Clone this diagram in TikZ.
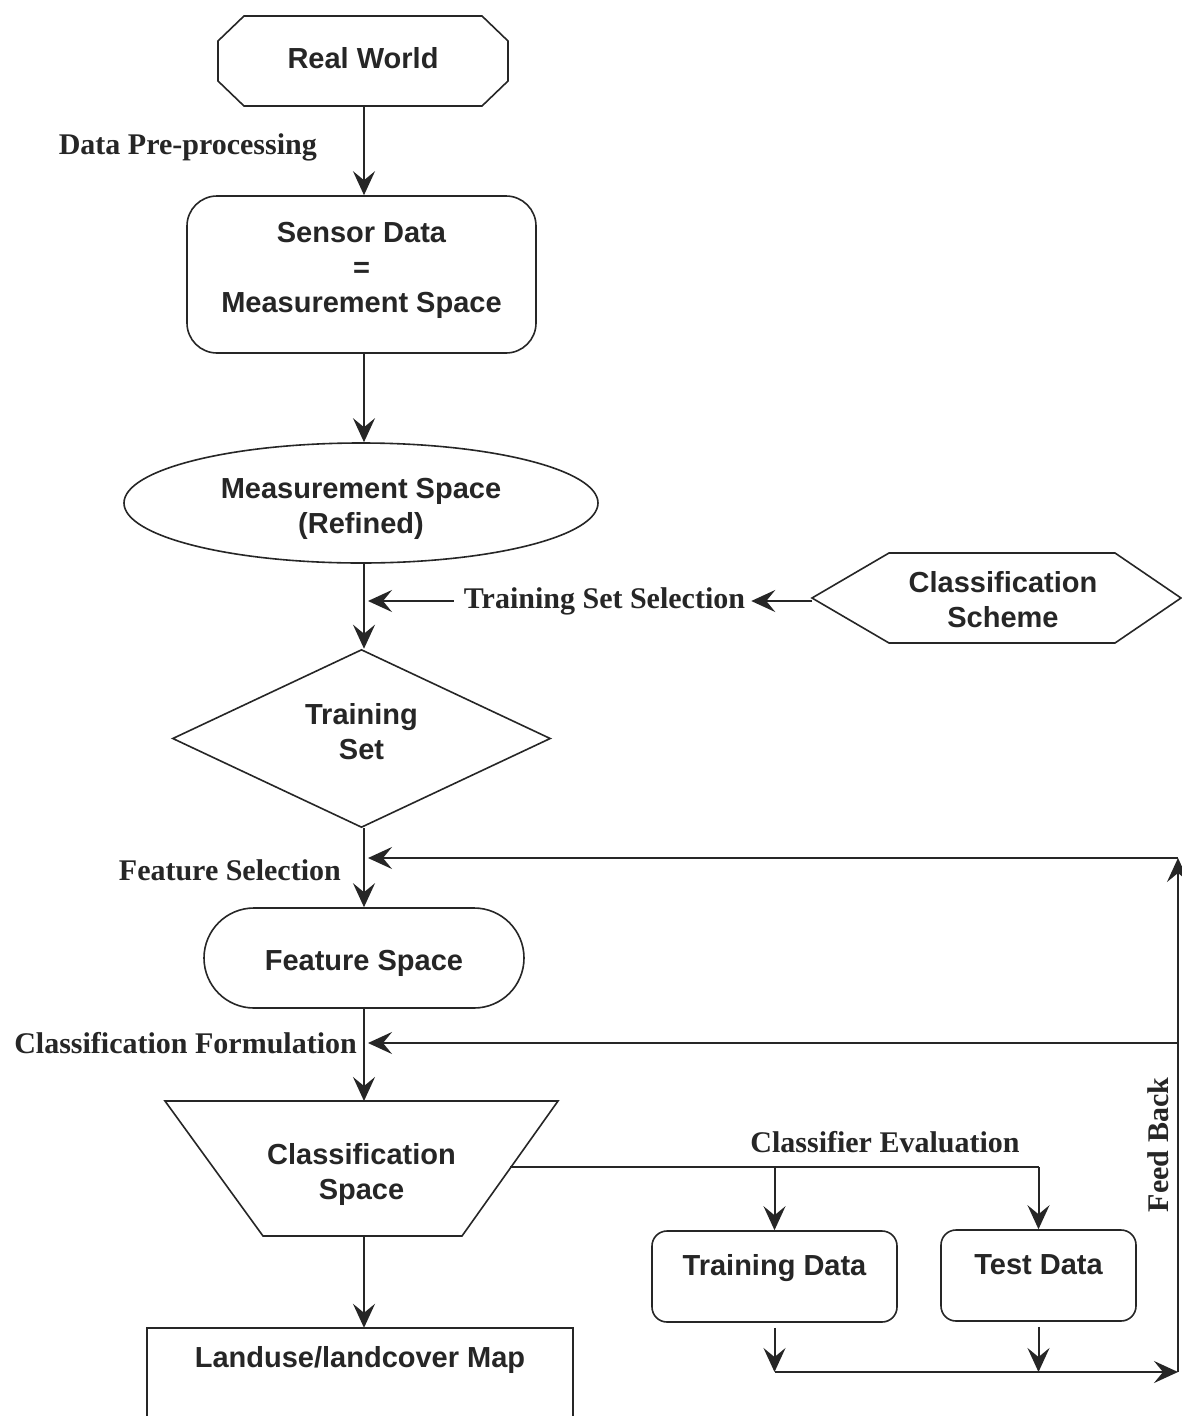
\documentclass[tikz,border=0pt]{standalone}
\usepackage{fontspec}
\setmainfont{Liberation Serif}
\setsansfont{Liberation Sans}
\usetikzlibrary{arrows.meta,shapes.geometric}
\definecolor{ink}{HTML}{262626}
\begin{document}
\begin{tikzpicture}[x=1pt,y=-1pt, color=ink,
  shp/.style={draw=ink, line width=1.6pt},
  box/.style={align=center, text=ink, inner sep=0pt,
    font=\sffamily\bfseries\fontsize{29}{35}\selectfont},
  lab/.style={text=ink, inner sep=0pt,
    font=\rmfamily\bfseries\fontsize{30}{34}\selectfont},
  arr/.style={draw=ink, line width=2pt, -{Stealth[length=24pt,width=22pt,inset=9pt]}},
  ln/.style={draw=ink, line width=2pt},
]
\fill[white] (0,0) rectangle (1182,1416);
\useasboundingbox (0,0) rectangle (1182,1416);
\coordinate (col) at (364,0);

% Real World (octagon)
\node[box, minimum width=290, minimum height=96] (rw) at (363,58) {Real World};
\draw[shp] (244,16) -- (482,16) -- (508,41) -- (508,81) -- (482,106) -- (244,106) -- (218,81) -- (218,41) -- cycle;

% Sensor Data
\node[box, shp, rounded corners=30pt, minimum width=349, minimum height=157, text depth=15pt] (sd) at (361.5,274.5) {Sensor Data\\=\\Measurement Space};

% Measurement Space (Refined)
\node[box, shp, ellipse, minimum width=474, minimum height=120, text height=66pt, text depth=6pt] (ms) at (361,503) {Measurement Space\\(Refined)};

% Classification Scheme (hexagon)
\node[box, minimum width=357, minimum height=90] (cs) at (1003,600) {Classification\\Scheme};
\draw[shp] (812,598) -- (889,553) -- (1115,553) -- (1181,598) -- (1115,643) -- (889,643) -- cycle;

% Training Set (diamond)
\node[box, shp, diamond, aspect=2, minimum width=378, minimum height=178, text depth=14pt] (ts) at (361.5,738.5) {Training\\Set};

% Feature Space (stadium)
\node[box, shp, rounded corners=50pt, minimum width=320, minimum height=100, text height=27pt, text depth=2pt] (fs) at (364,958) {Feature Space};

% Classification Space (trapezoid)
\node[box, minimum width=393, minimum height=135] (csp) at (361.5,1174.5) {Classification\\Space};
\draw[shp] (165,1101) -- (558,1101) -- (462,1236) -- (263,1236) -- cycle;
\coordinate (cspr) at (510,1167);

% Landuse map (open box)
\node[box, minimum width=426, minimum height=64] (map) at (360,1360) {Landuse/landcover Map};
\draw[shp] (map.north west |- 0,1416) -- (map.north west) -- (map.north east) -- (map.north east |- 0,1416);

% Training Data / Test Data
\node[box, shp, rounded corners=15pt, minimum width=245, minimum height=91, text height=22pt, text depth=25pt] (trd) at (774.5,1276.5) {Training Data};
\node[box, shp, rounded corners=15pt, minimum width=195, minimum height=91, text height=22pt, text depth=25pt] (ted) at (1038.5,1275.5) {Test Data};

% labels
\node[lab, anchor=east] (l1) at (317,147) {Data Pre-processing};
\node[lab] (tss) at (604.5,601) {Training Set Selection};
\node[lab, anchor=east] (l3) at (341,870) {Feature Selection};
\node[lab, anchor=east] (l4) at (357,1043) {Classification Formulation};
\node[lab] (l5) at (885,1142) {Classifier Evaluation};
\node[lab, rotate=90] (l6) at (1158,1145) {Feed Back};

% main column connectors
\draw[arr] (col |- rw.south) -- (col |- sd.north);
\draw[arr] (col |- sd.south) -- (col |- ms.north);
\draw[arr] (col |- ms.south) -- (col |- ts.north);
\draw[arr] (col |- ts.south) -- (col |- fs.north);
\draw[arr] (col |- fs.south) -- (col |- 0,1101);
\draw[arr] (col |- 0,1236) -- (col |- map.north);

% training set selection
\draw[arr] ([xshift=-10pt]tss.west) -- ([xshift=4pt]col |- tss.west);
\draw[arr] ([xshift=-12pt]cs.west |- tss.east) -- ([xshift=6pt]tss.east);

% classifier evaluation
\draw[ln] (cspr) -- (ted.north |- cspr);
\draw[arr] (ted.north |- cspr) -- (ted.north);
\draw[arr] (trd.north |- cspr) -- (trd.north);

% feedback
\coordinate (fbbot) at (1178,1372);
\coordinate (fbtop) at (1178,858);
\coordinate (fbmid) at (1178,1043);
\draw[arr] ([yshift=-5pt]trd.south) -- (trd.south |- fbbot);
\draw[arr] ([yshift=-5pt]ted.south) -- (ted.south |- fbbot);
\draw[arr] (trd.south |- fbbot) -- (fbbot);
\draw[arr] (fbbot) -- (fbtop);
\draw[arr] (fbtop) -- ([xshift=4pt]col |- fbtop);
\draw[arr] (fbmid) -- ([xshift=4pt]col |- fbmid);
\end{tikzpicture}
\end{document}
